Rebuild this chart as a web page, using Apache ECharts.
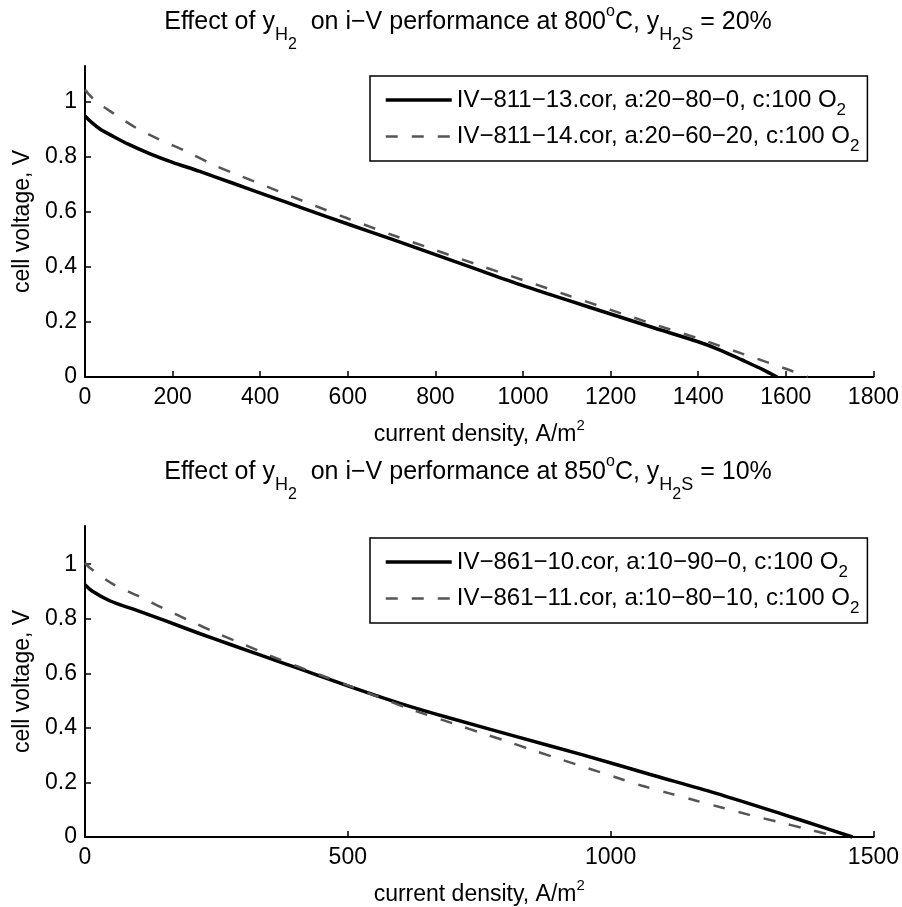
<!DOCTYPE html>
<html>
<head>
<meta charset="utf-8">
<script src="https://cdn.jsdelivr.net/npm/echarts@6/dist/echarts.min.js"></script>
<style>
  html, body { margin: 0; padding: 0; background: #fff; }
  #chart { width: 902px; height: 907px; }
</style>
</head>
<body>
<div id="chart"></div>
<script>
// ---- measured i-V curves -------------------------------------------------
// 800 °C, y_H2S = 20 %
const run81113Current = [0, 15, 35, 60, 100, 150, 200, 262, 338, 415, 500, 600, 700, 800, 900, 1000, 1100, 1200, 1300, 1400, 1450, 1500, 1550, 1580];
const run81113Voltage = [0.948, 0.925, 0.900, 0.878, 0.845, 0.810, 0.780, 0.747, 0.704, 0.660, 0.612, 0.556, 0.501, 0.445, 0.388, 0.332, 0.280, 0.229, 0.178, 0.128, 0.098, 0.062, 0.025, 0.0];
const run81114Current = [0, 10, 30, 65, 118, 171, 232, 293, 354, 415, 500, 600, 700, 800, 900, 1000, 1100, 1200, 1300, 1400, 1500, 1600, 1650];
const run81114Voltage = [1.045, 1.025, 0.995, 0.958, 0.904, 0.862, 0.819, 0.771, 0.731, 0.692, 0.638, 0.576, 0.517, 0.461, 0.406, 0.352, 0.298, 0.244, 0.191, 0.140, 0.085, 0.030, 0.0];

// 850 °C, y_H2S = 10 %
const run86110Current = [0, 15, 48, 92, 155, 219, 282, 345, 409, 472, 536, 599, 694, 821, 947, 1074, 1201, 1328, 1400, 1460];
const run86110Voltage = [0.925, 0.900, 0.865, 0.835, 0.791, 0.745, 0.702, 0.659, 0.616, 0.573, 0.530, 0.490, 0.436, 0.368, 0.301, 0.230, 0.160, 0.083, 0.038, 0.0];
const run86111Current = [0, 10, 54, 105, 149, 200, 250, 301, 352, 402, 453, 504, 560, 620, 707, 754, 804, 855, 906, 957, 1008, 1058, 1112, 1163, 1213, 1264, 1318, 1369, 1416, 1435];
const run86111Voltage = [1.005, 0.985, 0.926, 0.880, 0.838, 0.792, 0.748, 0.707, 0.665, 0.627, 0.590, 0.553, 0.512, 0.468, 0.412, 0.381, 0.350, 0.316, 0.284, 0.252, 0.220, 0.189, 0.160, 0.133, 0.107, 0.081, 0.056, 0.031, 0.009, 0.0];

// ---- series names (the trailing "2" is typeset as a subscript) ----------
const topSeriesNames = ['IV−811−13.cor, a:20−80−0, c:100 O2', 'IV−811−14.cor, a:20−60−20, c:100 O2'];
const bottomSeriesNames = ['IV−861−10.cor, a:10−90−0, c:100 O2', 'IV−861−11.cor, a:10−80−10, c:100 O2'];

// ---- tick values --------------------------------------------------------
const topCurrentTicks = [0, 200, 400, 600, 800, 1000, 1200, 1400, 1600, 1800];
const bottomCurrentTicks = [0, 500, 1000, 1500];
const voltageTicks = [0, 0.2, 0.4, 0.6, 0.8, 1];

const FONT = '"Liberation Sans", Arial, Helvetica, sans-serif';
const FS = 23;

const zip = (xs, ys) => xs.map((x, k) => [x, ys[k]]);

// rich text styles; a middle-aligned token moves by (padTop - padBottom) / 2
function makeRich(size, sub1Drop, sub2Drop) {
  const base = { fontFamily: FONT, color: '#000', fill: '#000' };
  return {
    n:   Object.assign({ fontSize: size }, base),
    s1:  Object.assign({ fontSize: Math.round(size * 0.72), padding: [2 * sub1Drop, 0, 0, 0] }, base),
    s2:  Object.assign({ fontSize: Math.round(size * 0.64), padding: [2 * sub2Drop, 0, 0, 0] }, base),
    sup: Object.assign({ fontSize: Math.round(size * 0.64), padding: [0, 0, Math.round(size * 0.8), 0] }, base)
  };
}
const axisRich = makeRich(FS, 8, 16);
const titleRich = makeRich(25, 13, 23);
const legendRich = makeRich(24, 10, 18);

function titleText(temp, pct) {
  return '{n|Effect of y}{s1|H}{s2|2}{n|  on i−V performance at ' + temp + '}{sup|o}{n|C, y}{s1|H}{s2|2}{s1|S}{n| = ' + pct + '%}';
}

const axisNameX = '{n|current density, A/m}{sup|2}';

function xAxisCfg(gridIndex, ticks) {
  return {
    type: 'value', gridIndex,
    min: ticks[0], max: ticks[ticks.length - 1], interval: ticks[1] - ticks[0],
    axisLine: { show: true, onZero: false, lineStyle: { color: '#000', width: 2 } },
    axisTick: { show: true, inside: true, length: 6, lineStyle: { color: '#000', width: 1.5 } },
    axisLabel: { color: '#000', fontSize: FS, fontFamily: FONT, margin: 9, formatter: (v) => String(v) },
    splitLine: { show: false },
    name: axisNameX, nameLocation: 'middle', nameGap: 41,
    nameTextStyle: { rich: axisRich }
  };
}

function yAxisCfg(gridIndex, max) {
  return {
    type: 'value', gridIndex,
    min: 0, max, interval: 0.2,
    axisLine: { show: true, onZero: false, lineStyle: { color: '#000', width: 2 } },
    axisTick: { show: true, inside: true, length: 6, customValues: voltageTicks, lineStyle: { color: '#000', width: 1.5 } },
    axisLabel: { color: '#000', fontSize: FS, fontFamily: FONT, margin: 8, customValues: voltageTicks, formatter: (v) => String(v) },
    splitLine: { show: false },
    name: 'cell voltage, V', nameLocation: 'middle', nameGap: 45,
    nameTextStyle: { color: '#000', fontSize: FS, fontFamily: FONT }
  };
}

function legendCfg(names, top) {
  return {
    orient: 'vertical', left: 370, top,
    data: [
      { name: names[0], lineStyle: { width: 3.5 } },
      { name: names[1], lineStyle: { width: 2.5 } }
    ],
    itemStyle: { opacity: 0 },
    backgroundColor: '#fff', borderColor: '#000', borderWidth: 1.5, borderRadius: 0,
    padding: [12, 8, 6, 14], itemGap: 6, itemWidth: 66, itemHeight: 20,
    selectedMode: false,
    formatter: (name) => '{n|' + name.slice(0, -1) + '}{s1|2}',
    textStyle: { rich: legendRich }
  };
}

function solid(name, xi, yi, data) {
  return {
    type: 'line', name, xAxisIndex: xi, yAxisIndex: yi, data,
    symbol: 'none', smooth: 0.3, z: 3,
    lineStyle: { color: '#000', width: 3.5 }, itemStyle: { color: '#000' }
  };
}
function dashed(name, xi, yi, data) {
  return {
    type: 'line', name, xAxisIndex: xi, yAxisIndex: yi, data,
    symbol: 'none', smooth: 0.3, z: 4,
    lineStyle: { color: '#555', width: 2.5, type: [12, 14] }, itemStyle: { color: '#555' }
  };
}

const chart = echarts.init(document.getElementById('chart'), null, { renderer: 'canvas' });
chart.setOption({
  backgroundColor: '#fff',
  animation: false,
  textStyle: { fontFamily: FONT, color: '#000' },
  grid: [
    { left: 85, top: 66, width: 789, height: 311 },
    { left: 85, top: 526, width: 789, height: 311 }
  ],
  xAxis: [xAxisCfg(0, topCurrentTicks), xAxisCfg(1, bottomCurrentTicks)],
  yAxis: [yAxisCfg(0, 1.13), yAxisCfg(1, 1.14)],
  legend: [legendCfg(topSeriesNames, 76), legendCfg(bottomSeriesNames, 538)],
  graphic: [
    { type: 'text', x: 468, y: 22, style: { text: titleText('800', '20'), rich: titleRich, align: 'center', verticalAlign: 'middle', fontSize: 25, fontFamily: FONT, fill: '#000' } },
    { type: 'text', x: 468, y: 472, style: { text: titleText('850', '10'), rich: titleRich, align: 'center', verticalAlign: 'middle', fontSize: 25, fontFamily: FONT, fill: '#000' } }
  ],
  series: [
    solid(topSeriesNames[0], 0, 0, zip(run81113Current, run81113Voltage)),
    dashed(topSeriesNames[1], 0, 0, zip(run81114Current, run81114Voltage)),
    solid(bottomSeriesNames[0], 1, 1, zip(run86110Current, run86110Voltage)),
    dashed(bottomSeriesNames[1], 1, 1, zip(run86111Current, run86111Voltage))
  ]
});
</script>
</body>
</html>
